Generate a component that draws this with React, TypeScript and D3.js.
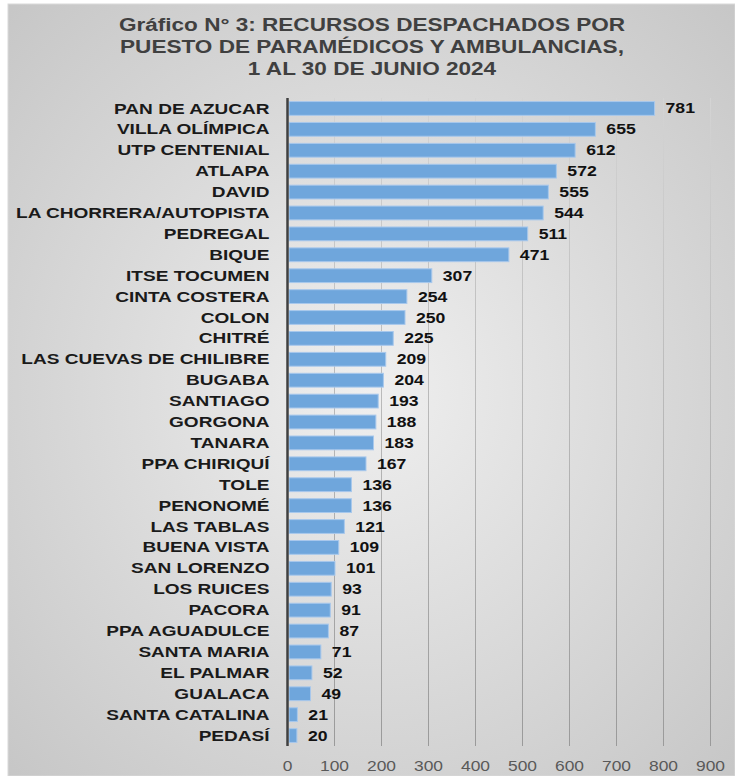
import * as d3 from "d3";
import { useRef, useEffect } from "react";

const puestos = [
  "PAN DE AZUCAR", "VILLA OLÍMPICA", "UTP CENTENIAL", "ATLAPA", "DAVID",
  "LA CHORRERA/AUTOPISTA", "PEDREGAL", "BIQUE", "ITSE TOCUMEN", "CINTA COSTERA",
  "COLON", "CHITRÉ", "LAS CUEVAS DE CHILIBRE", "BUGABA", "SANTIAGO", "GORGONA",
  "TANARA", "PPA CHIRIQUÍ", "TOLE", "PENONOMÉ", "LAS TABLAS", "BUENA VISTA",
  "SAN LORENZO", "LOS RUICES", "PACORA", "PPA AGUADULCE", "SANTA MARIA",
  "EL PALMAR", "GUALACA", "SANTA CATALINA", "PEDASÍ"
];
const recursos = [
  781, 655, 612, 572, 555, 544, 511, 471, 307, 254, 250, 225, 209, 204, 193, 188,
  183, 167, 136, 136, 121, 109, 101, 93, 91, 87, 71, 52, 49, 21, 20
];
const xTicks = [0, 100, 200, 300, 400, 500, 600, 700, 800, 900];
const titleLines = [
  "Gráfico N° 3: RECURSOS DESPACHADOS POR",
  "PUESTO DE PARAMÉDICOS Y AMBULANCIAS,",
  "1 AL 30 DE JUNIO 2024"
];

export default function App({
  width = 735,
  height = 776,
  marginTop = 98,
  marginRight = 25,
  marginBottom = 30,
  marginLeft = 287.5
}) {
  const svgRef = useRef(null);

  useEffect(() => {
    const svg = d3.select(svgRef.current);
    svg.selectAll("*").remove();

    const data = puestos.map((p, i) => ({ puesto: p, valor: recursos[i] }));
    const font = "'Liberation Sans', Arial, sans-serif";
    // the reference text is drawn a bit wider than plain Arial
    const place = (x, y, sx) => `translate(${x},${y}) scale(${sx},1)`;

    const defs = svg.append("defs");
    const bg = defs.append("radialGradient")
      .attr("id", "bg")
      .attr("cx", "50%").attr("cy", "50%").attr("r", "75%");
    bg.append("stop").attr("offset", "0%").attr("stop-color", "#efefef");
    bg.append("stop").attr("offset", "100%").attr("stop-color", "#c4c4c4");

    const grid = defs.append("linearGradient")
      .attr("id", "grid")
      .attr("gradientUnits", "userSpaceOnUse")
      .attr("x1", 0).attr("y1", marginTop)
      .attr("x2", 0).attr("y2", height - marginBottom);
    grid.append("stop").attr("offset", "0%").attr("stop-color", "#d4d4d4");
    grid.append("stop").attr("offset", "100%").attr("stop-color", "#9a9a9a");

    // chart area background
    svg.append("rect")
      .attr("x", 8).attr("y", 4)
      .attr("width", width - 8).attr("height", height - 4)
      .attr("fill", "url(#bg)")
      .attr("stroke", "#d9d9d9");

    // title
    svg.append("g")
      .selectAll("text")
      .data(titleLines)
      .join("text")
      .attr("transform", (d, i) => place(372, 31 + i * 22, 1.22))
      .attr("text-anchor", "middle")
      .style("font-family", font)
      .style("font-weight", "bold")
      .style("font-size", "18.5px")
      .attr("fill", "#404040")
      .text((d) => d);

    const xScale = d3.scaleLinear()
      .domain([0, 900])
      .range([marginLeft, marginLeft + 423]);

    const yScale = d3.scaleBand()
      .domain(data.map((d) => d.puesto))
      .range([marginTop, height - marginBottom])
      .paddingInner(0.34)
      .paddingOuter(0.17);

    // vertical gridlines
    svg.append("g")
      .selectAll("line")
      .data(xTicks.slice(1))
      .join("line")
      .attr("x1", (d) => xScale(d))
      .attr("x2", (d) => xScale(d))
      .attr("y1", marginTop)
      .attr("y2", height - marginBottom)
      .attr("stroke", "url(#grid)")
      .attr("stroke-width", 1);

    // bars
    svg.append("g")
      .selectAll("rect")
      .data(data)
      .join("rect")
      .attr("x", xScale(0) + 1.5)
      .attr("y", (d) => yScale(d.puesto))
      .attr("width", (d) => xScale(d.valor) - xScale(0) - 1.5)
      .attr("height", yScale.bandwidth())
      .attr("fill", "#6fa6dc")
      .attr("stroke", "#a8c8ec")
      .attr("stroke-width", 1);

    // y axis line
    svg.append("line")
      .attr("x1", xScale(0)).attr("x2", xScale(0))
      .attr("y1", marginTop).attr("y2", height - marginBottom)
      .attr("stroke", "#404040")
      .attr("stroke-width", 2.5);

    // category labels
    svg.append("g")
      .selectAll("text")
      .data(data)
      .join("text")
      .attr("transform", (d) => place(marginLeft - 18, yScale(d.puesto) + yScale.bandwidth() / 2, 1.36))
      .attr("dy", "0.36em")
      .attr("text-anchor", "end")
      .style("font-family", font)
      .style("font-weight", "bold")
      .style("font-size", "14px")
      .attr("fill", "#1a1a1a")
      .text((d) => d.puesto);

    // value labels
    svg.append("g")
      .selectAll("text")
      .data(data)
      .join("text")
      .attr("transform", (d) => place(xScale(d.valor) + 11, yScale(d.puesto) + yScale.bandwidth() / 2, 1.26))
      .attr("dy", "0.36em")
      .style("font-family", font)
      .style("font-weight", "bold")
      .style("font-size", "14px")
      .attr("fill", "#111")
      .text((d) => d.valor);

    // x tick labels
    svg.append("g")
      .selectAll("text")
      .data(xTicks)
      .join("text")
      .attr("transform", (d) => place(xScale(d), height - 10, 1.16))
      .attr("dy", "0.36em")
      .attr("text-anchor", "middle")
      .style("font-family", font)
      .style("font-size", "15px")
      .attr("fill", "#595959")
      .text((d) => d);
  }, []);

  return (
    <svg
      ref={svgRef}
      width={width}
      height={height}
      style={{ position: "absolute", left: 0, top: 0, background: "#fff" }}
    />
  );
}
